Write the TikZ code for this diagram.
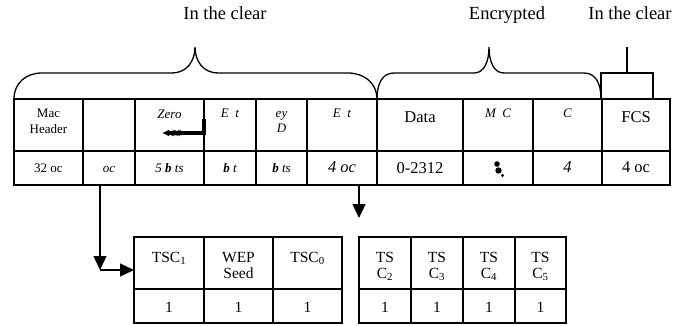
\documentclass[tikz,border=0pt]{standalone}
\usepackage{fontspec}
\setmainfont{Liberation Serif}
\usetikzlibrary{arrows.meta}

\tikzset{
  label/.style={font=\fontsize{18.5}{20}\selectfont, anchor=base},
  cell/.style={font=\fontsize{13}{16}\selectfont, anchor=base, align=center, inner sep=0pt},
  celli/.style={cell, font=\fontsize{13}{14}\selectfont\itshape},
  cellbig/.style={font=\fontsize{16.5}{18}\selectfont, anchor=base, inner sep=0pt},
  cellsub/.style={font=\fontsize{15.5}{16}\selectfont, anchor=base, align=center, inner sep=0pt},
  tip/.style={-{Triangle[length=14pt,width=13pt]}},
}

\begin{document}
\begin{tikzpicture}[x=1pt,y=-1pt,line width=1.3pt]
			\useasboundingbox (0,0) rectangle (685,326);
			% Vẽ nhãn
			\node[label] (clear1) at (225,20) {In the clear};
			\node[label] (encr) at (507,20) {Encrypted};
			\node[label] (clear2) at (630,20) {In the clear};
			% Vẽ ngoặc
			\draw (14,99) .. controls (14,83) and (26,73) .. (42,73) -- (172,73)
			 .. controls (186,73) and (195,62) .. (195,47)
			 .. controls (195,62) and (204,73) .. (218,73) -- (348,73)
			 .. controls (364,73) and (377,83) .. (377,99);
			\draw (377,99) .. controls (377,84) and (382,73) .. (394,73) -- (474,73)
			 .. controls (484,73) and (489,62) .. (489,47)
			 .. controls (489,62) and (494,73) .. (504,73) -- (584,73)
			 .. controls (596,73) and (601,84) .. (601,99);
			\draw (601,99) -- (601,73) -- (653,73) -- (653,99);
			\draw (627,73) -- (627,47);
			% Vẽ bảng trên
			\draw (14,99) rectangle (670,185);
			\draw (14,151) -- (670,151);
			\foreach \x in {83,135,204,256,307,377,463,533,602}
			\draw (\x,99) -- (\x,185);
			% Dòng trên
			\node[cell] (mac) at (48.5,118) {Mac};
			\node[cell] (hdr) at (48.5,134) {Header};
			\node[celli] (zero) at (169.5,119) {Zero};
			\node[celli] (es) at (176,136) {es};
			\draw[line width=3.6pt, {Latex[length=7pt,width=7pt]}-] (162,133) -- (204,133) -- (204,119);
			\node[celli] (et1) at (230,118) {E\ \ t};
			\node[celli] (ey) at (281.5,118) {ey};
			\node[celli] (dd) at (281.5,132) {D};
			\node[celli] (et2) at (342,118) {E\ \ t};
			\node[cellbig] (data) at (420,123) {Data};
			\node[celli] (mc) at (498,118) {M\ \ C};
			\node[celli] (cc) at (567.5,118) {C};
			\node[cellbig] (fcs) at (636,123) {FCS};
			% Dòng dưới
			\node[cell] (n32) at (48.5,172) {32 oc};
			\node[celli] (oc) at (109,172) {oc};
			\node[celli] (n5) at (169.5,172) {5 {\bfseries b} ts};
			\node[celli] (bt) at (230,172) {{\bfseries b} t};
			\node[celli] (bts) at (281.5,172) {{\bfseries b} ts};
			\node[cellbig,font=\fontsize{16.5}{18}\selectfont\itshape] (n4oc) at (342,172) {4 oc};
			\node[cellbig] (len) at (420,173) {0-2312};
			\fill (497,164) circle (2.8) (498.5,170.5) circle (3.2) (502.5,175.5) circle (1.7);
			\node[cellbig,font=\fontsize{16.5}{18}\selectfont\itshape] (n4) at (567.5,172) {4};
			\node[cellbig] (fcs4) at (636,172) {4 oc};
			% Vẽ bảng dưới
			\draw (134,237) rectangle (342,323);
			\draw (134,289) -- (342,289);
			\foreach \x in {204,273}
			\draw (\x,237) -- (\x,323);
			\draw (359,237) rectangle (566,323);
			\draw (359,289) -- (566,289);
			\foreach \x in {411,463,515}
			\draw (\x,237) -- (\x,323);
			\node[cellsub] (tsc1) at (169,262) {TSC\textsubscript{1}};
			\node[cellsub] (wep) at (238.5,262) {WEP};
			\node[cellsub] (seed) at (238.5,278) {Seed};
			\node[cellsub] (tsc0) at (307.5,262) {TSC\textsubscript{0}};
			\foreach \x/\i in {385/2,437/3,489/4,540.5/5}{
			\node[cellsub] (ts\i) at (\x,262) {TS};
			\node[cellsub] (c\i) at (\x,278) {C\textsubscript{\i}};}
			\foreach \x in {169,238.5,307.5,385,437,489,540.5}
			\node[cellsub] at (\x,312) {1};
			% Vẽ mũi tên
			\coordinate (from1) at (100,185);
			\coordinate (knee) at (100,270);
			\coordinate (to1) at (134,270);
			\coordinate (from2) at (359,185);
			\coordinate (to2) at (359,218);
			\draw[tip] (from1) -- (knee);
			\draw[tip] (knee) -- (to1);
			\draw[tip] (from2) -- (to2);
		\end{tikzpicture}
\end{document}
